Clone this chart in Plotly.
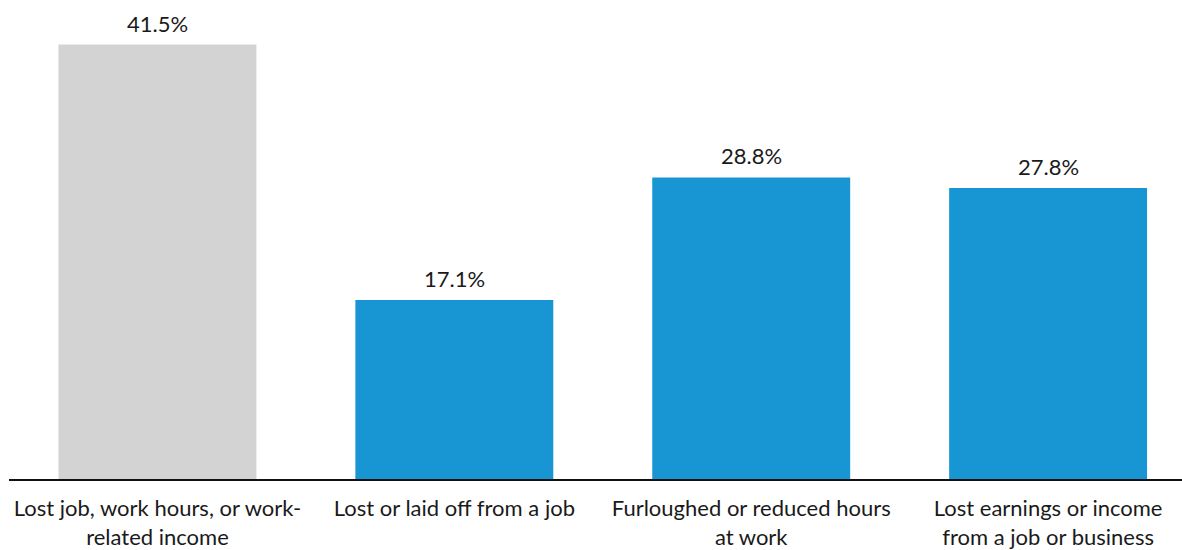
import plotly.graph_objects as go

categories = [
    "Lost job, work hours, or work-<br>related income",
    "Lost or laid off from a job",
    "Furloughed or reduced hours<br>at work",
    "Lost earnings or income<br>from a job or business",
]
values = [41.5, 17.1, 28.8, 27.8]
colors = ["#d3d3d3", "#1896d4", "#1896d4", "#1896d4"]

fig = go.Figure(
    go.Bar(
        x=categories,
        y=values,
        marker=dict(color=colors, line=dict(width=0)),
        hoverinfo="skip",
    )
)

# value labels above each bar
for cat, v in zip(categories, values):
    fig.add_annotation(
        x=cat,
        y=v,
        text=f"{v:.1f}%",
        showarrow=False,
        yanchor="bottom",
        yshift=6,
        font=dict(family="Lato", size=22, color="#1a1a1a"),
    )

fig.update_layout(
    width=1182,
    height=550,
    margin=dict(l=9, r=0, t=0, b=71, autoexpand=False),
    paper_bgcolor="white",
    plot_bgcolor="white",
    bargap=1 / 3,
    showlegend=False,
    font=dict(family="Lato", color="#1a1a1a"),
)
fig.update_xaxes(
    range=[-0.5, 3.451],
    automargin=False,
    showline=True,
    linecolor="#111111",
    linewidth=2,
    showgrid=False,
    ticks="outside",
    ticklen=9,
    tickcolor="rgba(0,0,0,0)",
    tickfont=dict(family="Lato", size=22, color="#1a1a1a"),
)
fig.update_yaxes(range=[0, 45.75], visible=False, showgrid=False)

fig.write_html("out.html")
